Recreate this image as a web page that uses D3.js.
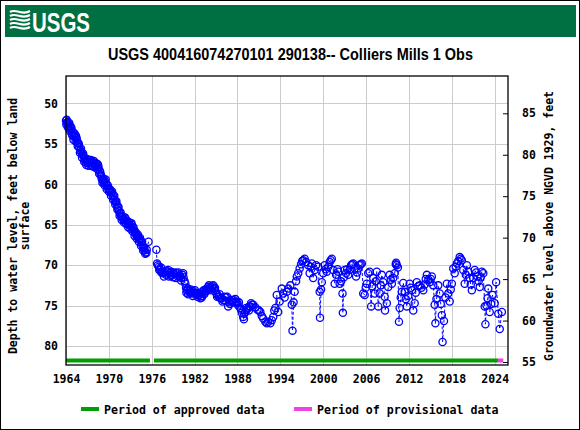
<!DOCTYPE html>
<html><head><meta charset="utf-8">
<script src="https://cdn.jsdelivr.net/npm/d3@7"></script>
<style>body{margin:0;background:#fff}svg{display:block}</style>
</head><body>
<svg id="c" width="580" height="430"></svg>
<script>
// ---- data ----
const years = [
1964.0,1964.1,1964.2,1964.3,1964.45,1964.6,1964.7,1964.8,1964.95,1965.1,1965.25,1965.4,1965.55,1965.7,1965.85,
1966.0,1966.15,1966.3,1966.45,1966.6,1966.75,1966.9,1967.05,1967.2,1967.35,1967.5,1967.65,1967.8,1967.95,
1968.1,1968.25,1968.4,1968.55,1968.7,1968.85,1969.0,1969.15,1969.3,1969.45,1969.6,1969.75,1969.9,
1970.05,1970.2,1970.35,1970.5,1970.65,1970.8,1970.95,1971.1,1971.25,1971.4,1971.55,1971.7,1971.85,
1972.0,1972.15,1972.3,1972.45,1972.6,1972.75,1972.9,1973.05,1973.2,1973.35,1973.5,1973.65,1973.8,1973.95,
1974.1,1974.25,1974.4,1974.55,1974.7,1974.85,1975.0,1975.15,1975.3,1975.55,
1976.65,1976.75,1976.85,1977.0,1977.15,1977.3,1977.45,1977.6,1977.8,1978.0,1978.15,1978.3,1978.5,1978.65,1978.8,
1979.0,1979.15,1979.3,1979.5,1979.65,1979.8,1980.0,1980.15,1980.3,1980.45,1980.6,1980.7,1980.8,1980.9,
1981.05,1981.2,1981.35,1981.5,1981.65,1981.8,1981.95,1982.1,1982.3,1982.45,1982.6,1982.8,1982.95,
1983.1,1983.25,1983.4,1983.55,1983.7,1983.9,1984.05,1984.2,1984.4,1984.6,1984.75,1984.9,
1985.05,1985.2,1985.4,1985.6,1985.8,1986.0,1986.2,1986.4,1986.55,1986.7,1986.85,1987.0,1987.2,1987.4,1987.6,1987.8,
1988.0,1988.2,1988.4,1988.6,1988.8,1988.95,1989.1,1989.3,1989.5,1989.65,1989.8,1990.0,1990.2,1990.5,1990.8,
1991.0,1991.2,1991.4,1991.6,1991.9,1992.1,1992.3,1992.6,1992.8,1993.0,1993.15,1993.3,1993.5,1993.7,1993.9,
1994.2,1994.4,1994.6,1994.9,1995.1,1995.4,1995.6,1995.7,1995.85,1996.0,1996.2,1996.3,1996.5,1996.7,1996.9,
1997.05,1997.2,1997.4,1997.6,1997.9,1998.1,1998.25,1998.4,1998.6,1998.8,1999.0,1999.3,1999.5,1999.55,1999.7,1999.8,
2000.0,2000.2,2000.35,2000.5,2000.7,2000.9,2001.05,2001.2,2001.4,2001.6,2001.8,2002.0,2002.1,2002.3,2002.5,2002.7,2002.75,2002.9,
2003.0,2003.2,2003.35,2003.5,2003.7,2003.9,2004.05,2004.2,2004.4,2004.6,2004.75,2004.9,2005.1,2005.25,2005.4,2005.6,2005.8,2005.95,
2006.1,2006.3,2006.5,2006.7,2006.85,2007.0,2007.2,2007.35,2007.5,2007.7,2007.9,2008.05,2008.2,2008.4,2008.6,2008.65,2008.9,
2009.1,2009.3,2009.45,2009.6,2009.8,2010.0,2010.15,2010.2,2010.3,2010.45,2010.6,2010.7,2010.85,
2011.0,2011.2,2011.4,2011.55,2011.7,2011.9,2012.1,2012.25,2012.4,2012.6,2012.8,2012.95,
2013.1,2013.3,2013.5,2013.75,2014.0,2014.2,2014.35,2014.5,2014.7,2014.9,2015.05,2015.2,2015.4,2015.6,2015.7,2015.85,
2016.1,2016.3,2016.45,2016.6,2016.7,2016.9,2017.1,2017.3,2017.5,2017.7,2017.85,2018.0,2018.2,2018.4,2018.55,2018.7,2018.9,
2019.1,2019.25,2019.4,2019.6,2019.8,2019.95,2020.1,2020.3,2020.5,2020.65,2020.8,2021.0,2021.2,2021.4,2021.6,2021.75,2021.9,
2022.05,2022.2,2022.4,2022.6,2022.7,2022.85,2023.0,2023.1,2023.3,2023.5,2023.7,2024.0,2024.2,2024.5,2024.7,2025.0
];
const depths = [
52.1,52.0,52.3,52.5,52.4,52.8,53.2,53.7,53.5,53.9,54.1,54.0,54.6,54.9,55.4,
55.8,56.0,56.3,56.5,56.9,57.3,57.1,57.4,57.2,57.3,57.0,57.4,57.5,57.3,
57.6,57.8,57.5,57.9,58.3,58.8,59.3,59.5,59.8,59.6,59.9,60.2,60.5,
60.7,60.9,61.0,61.3,61.5,61.9,62.2,62.5,62.9,63.3,63.6,63.9,64.1,
64.3,64.4,64.2,64.5,64.8,64.9,65.0,65.2,65.0,65.4,65.7,66.0,66.2,66.4,
66.5,66.8,66.9,67.2,67.5,67.9,68.2,68.4,68.1,67.1,
68.1,69.8,70.0,70.2,70.5,70.3,70.8,71.0,70.9,71.2,70.8,70.6,71.0,71.3,71.2,
71.5,71.1,70.9,71.0,71.4,71.3,71.4,71.6,71.2,71.5,72.0,72.3,72.8,73.1,
72.9,73.2,73.4,73.3,73.5,73.2,73.4,73.5,73.6,73.4,73.7,74.1,73.8,
73.3,73.1,73.4,73.0,72.9,72.7,73.0,72.8,72.6,72.5,72.9,73.2,
73.5,73.7,73.9,74.1,74.1,74.3,73.9,74.0,73.9,75.1,74.6,74.4,74.3,74.3,74.6,74.5,
74.7,74.6,75.3,75.9,76.4,76.0,75.8,75.5,75.3,75.1,75.1,74.9,74.9,75.2,75.5,
75.6,75.8,76.3,76.6,77.0,77.2,77.0,77.2,76.8,76.4,75.6,75.3,73.7,75.8,74.5,
72.9,73.5,74.0,73.3,72.9,72.5,74.9,78.1,74.6,73.3,72.0,71.4,71.0,70.4,69.9,
69.5,69.4,69.2,69.6,70.0,71.0,70.2,69.8,71.6,70.6,70.0,70.2,73.3,76.5,73.0,72.1,
71.0,70.0,70.5,70.8,70.2,69.6,69.4,69.2,70.6,72.3,71.2,70.5,70.8,72.3,72.0,73.5,75.9,71.5,
70.6,71.0,70.5,71.2,70.6,70.0,69.9,69.8,70.4,71.4,70.9,70.4,70.0,69.9,69.8,73.5,73.7,72.8,
72.3,71.0,70.8,75.1,72.6,71.6,73.5,72.0,70.8,75.1,73.5,72.5,71.2,72.1,73.9,75.6,74.7,
72.7,71.2,71.8,72.3,71.6,71.0,69.9,69.7,70.0,70.3,77.0,75.3,74.0,
73.3,72.2,73.3,74.2,75.1,73.8,72.3,72.8,73.1,75.6,74.7,73.4,
72.1,72.6,72.5,72.8,73.1,72.4,71.7,71.2,71.8,72.1,71.7,71.4,72.5,74.9,77.2,74.2,
72.5,73.5,74.8,76.2,79.5,76.9,74.0,72.3,73.5,74.5,73.0,72.3,70.4,71.0,70.2,69.8,69.5,
69.0,69.2,69.4,70.6,72.3,71.2,70.0,70.8,71.6,72.4,73.1,71.6,70.6,70.9,71.4,72.0,72.7,
71.5,70.8,71.0,75.1,77.3,75.0,74.1,72.9,75.8,74.8,73.7,74.7,72.1,76.0,77.9,75.8
];
// additional measurements in the dense early record
const extraYears = [
1964.05,1964.15,1964.25,1964.4,1964.55,1964.75,1964.9,1965.05,1965.2,1965.35,1965.5,1965.65,1965.8,1965.95,
1966.1,1966.25,1966.4,1966.55,1966.7,1966.85,1967.0,1967.15,1967.3,1967.45,1967.6,1967.75,1967.9,
1968.05,1968.2,1968.35,1968.5,1968.65,1968.8,1968.95,1969.1,1969.25,1969.4,1969.55,1969.7,1969.85,
1970.0,1970.15,1970.3,1970.45,1970.6,1970.75,1970.9,1971.05,1971.2,1971.35,1971.5,1971.65,1971.8,1971.95,
1972.1,1972.25,1972.4,1972.55,1972.7,1972.85,1973.0,1973.15,1973.3,1973.45,1973.6,1973.75,1973.9,
1974.05,1974.2,1974.35,1974.5,1974.65,1974.8,1974.95,1975.1,1975.25,
1977.05,1977.35,1977.7,1978.05,1978.4,1978.75,1979.05,1979.4,1979.75,1980.1,1980.4,1980.85,
1981.1,1981.45,1981.75,1982.05,1982.4,1982.7,1983.0,1983.35,1983.65,1984.0,1984.3,1984.5,1984.85,
1985.15,1985.5,1985.9,1986.3,1986.95,1987.3,1987.7,1988.1,1988.5,1988.9,1989.2,1989.6,1989.9
];
const extraDepths = [
52.6,52.4,52.9,53.1,53.4,53.0,54.0,54.5,53.7,54.7,54.3,55.3,55.0,56.1,
55.6,56.7,56.2,57.2,56.8,57.6,56.9,57.7,57.0,57.6,57.2,57.8,57.1,
57.9,57.4,58.1,57.6,58.7,58.5,59.0,59.8,59.3,60.1,59.4,60.6,60.1,
60.9,60.6,61.4,60.9,61.9,61.4,62.5,62.1,63.1,62.8,63.9,63.5,64.4,64.0,
64.7,64.1,64.9,64.5,65.3,64.7,65.5,64.8,65.8,65.3,66.4,65.9,66.7,
66.2,67.1,66.6,67.6,67.1,68.2,67.8,68.6,68.5,
70.6,70.9,71.4,70.7,71.4,70.8,71.0,71.6,70.9,71.9,71.0,73.4,
73.6,73.0,73.8,73.1,73.9,73.5,74.0,73.6,73.2,72.5,73.1,72.8,72.8,
73.9,73.6,74.5,74.4,74.8,74.6,74.2,75.0,75.5,76.7,75.3,75.6,74.7
];
const xTicks = [1964,1970,1976,1982,1988,1994,2000,2006,2012,2018,2024];
const leftTicks = [50,55,60,65,70,75,80];
const rightTicks = [85,80,75,70,65,60,55];
const approvedPeriods = [[1964.0,1975.75],[1976.3,2024.45]];
const provisionalPeriods = [[2024.45,2025.2]];
const titleText = "USGS 400416074270101 290138-- Colliers Mills 1 Obs";
const legendLabels = ["Period of approved data","Period of provisional data"];

// ---- drawing ----
const svg = d3.select("#c");
const mono = "'DejaVu Sans Mono', monospace";
const L = 66, R = 508, T = 76, B = 365;
const x = d3.scaleLinear().domain([1964, 2025.86]).range([L, R]);
const y = d3.scaleLinear().domain([46.6, 82.35]).range([T, B]);
const yR = d3.scaleLinear().domain([85, 55]).range([113.3, 362]);

svg.append("rect").attr("x",0.5).attr("y",0.5).attr("width",579).attr("height",429)
  .attr("fill","#fff").attr("stroke","#000");

// header
svg.append("rect").attr("x",5).attr("y",5).attr("width",571).attr("height",32).attr("fill","#006F41");
const logo = svg.append("g").attr("fill","none").attr("stroke","#fff").attr("stroke-width",2.2);
[12,16,20,24,28].forEach(v=>{
  logo.append("path").attr("d",`M10,${v} C16,${v-4} 22,${v+4} 30,${v-1}`);
});
svg.append("text").attr("x",32).attr("y",32).attr("fill","#fff")
  .attr("font-family","'Liberation Sans Narrow','Liberation Sans',Arial").attr("font-weight","bold")
  .attr("font-size",28).attr("textLength",58).attr("lengthAdjust","spacingAndGlyphs").text("USGS");

// title
svg.append("text").attr("x",290.5).attr("y",60).attr("text-anchor","middle")
  .attr("font-family","'Liberation Sans Narrow','Liberation Sans',Arial,sans-serif").attr("font-weight","bold")
  .attr("font-size",17).attr("textLength",365).attr("lengthAdjust","spacingAndGlyphs").text(titleText);

// grid
const grid = svg.append("g").attr("stroke","#cccccc").attr("stroke-width",1).attr("shape-rendering","crispEdges");
xTicks.forEach(t=>grid.append("line").attr("x1",Math.round(x(t))+0.5).attr("x2",Math.round(x(t))+0.5).attr("y1",T).attr("y2",B));
leftTicks.forEach(t=>grid.append("line").attr("y1",Math.round(y(t))+0.5).attr("y2",Math.round(y(t))+0.5).attr("x1",L).attr("x2",R));

// period bars
const pbar = svg.append("g");
approvedPeriods.forEach(p=>pbar.append("rect").attr("x",x(p[0])).attr("width",x(p[1])-x(p[0]))
  .attr("y",358.5).attr("height",4).attr("fill","#009F00"));
provisionalPeriods.forEach(p=>pbar.append("rect").attr("x",x(p[0])).attr("width",x(p[1])-x(p[0]))
  .attr("y",358.5).attr("height",4).attr("fill","#EE44DD"));

// data
const pts = years.map((yr,i)=>({yr, d:depths[i]}))
  .concat(extraYears.map((yr,i)=>({yr, d:extraDepths[i]})))
  .sort((a,b)=>a.yr-b.yr);
const segs = [];
let cur = [];
pts.forEach((p,i)=>{
  if (i>0 && p.yr - pts[i-1].yr > 0.8) { segs.push(cur); cur = []; }
  cur.push(p);
});
segs.push(cur);
const line = d3.line().x(p=>x(p.yr)).y(p=>y(p.d));
const dg = svg.append("g");
segs.forEach(s=>dg.append("path").attr("d",line(s)).attr("fill","none")
  .attr("stroke","#0000FF").attr("stroke-width",1).attr("stroke-dasharray","3,2"));
dg.selectAll("circle").data(pts).join("circle")
  .attr("cx",p=>x(p.yr)).attr("cy",p=>y(p.d)).attr("r",3.6)
  .attr("fill","none").attr("stroke","#0000FF").attr("stroke-width",1.3);

// frame
svg.append("rect").attr("x",L).attr("y",T).attr("width",R-L).attr("height",B-T)
  .attr("fill","none").attr("stroke","#000").attr("stroke-width",1.3);

// axes
const axL = svg.append("g").attr("transform",`translate(${L},0)`)
  .call(d3.axisLeft(y).tickValues(leftTicks).tickSize(0).tickPadding(8).tickFormat(d3.format("d")));
const axR = svg.append("g").attr("transform",`translate(${R},0)`)
  .call(d3.axisRight(yR).tickValues(rightTicks).tickSize(-5).tickPadding(14).tickFormat(d3.format("d")));
const axB = svg.append("g").attr("transform",`translate(0,${B})`)
  .call(d3.axisBottom(x).tickValues(xTicks).tickSize(0).tickPadding(10).tickFormat(d3.format("d")));
[axL,axR,axB].forEach(a=>{
  a.select(".domain").remove();
  a.selectAll("text").attr("font-family",mono).attr("font-weight","bold").attr("font-size",11.5).attr("fill","#000");
  a.selectAll("line").attr("stroke","#000");
});

// axis titles
svg.append("text").attr("transform","translate(17,226) rotate(-90)").attr("text-anchor","middle")
  .attr("font-family",mono).attr("font-weight","bold").attr("font-size",11.5)
  .text("Depth to water level, feet below land");
svg.append("text").attr("transform","translate(29,226) rotate(-90)").attr("text-anchor","middle")
  .attr("font-family",mono).attr("font-weight","bold").attr("font-size",11.5).text("surface");
svg.append("text").attr("transform","translate(553,226) rotate(-90)").attr("text-anchor","middle")
  .attr("font-family",mono).attr("font-weight","bold").attr("font-size",11.5)
  .text("Groundwater level above NGVD 1929, feet");

// legend
const lg = svg.append("g");
lg.append("rect").attr("x",81).attr("y",407).attr("width",18).attr("height",4).attr("fill","#009F00");
lg.append("text").attr("x",104).attr("y",414).attr("font-family",mono).attr("font-weight","bold")
  .attr("font-size",11.6).text(legendLabels[0]);
lg.append("rect").attr("x",294).attr("y",407).attr("width",18).attr("height",4).attr("fill","#EE44DD");
lg.append("text").attr("x",317).attr("y",414).attr("font-family",mono).attr("font-weight","bold")
  .attr("font-size",11.6).text(legendLabels[1]);
</script>
</body></html>
